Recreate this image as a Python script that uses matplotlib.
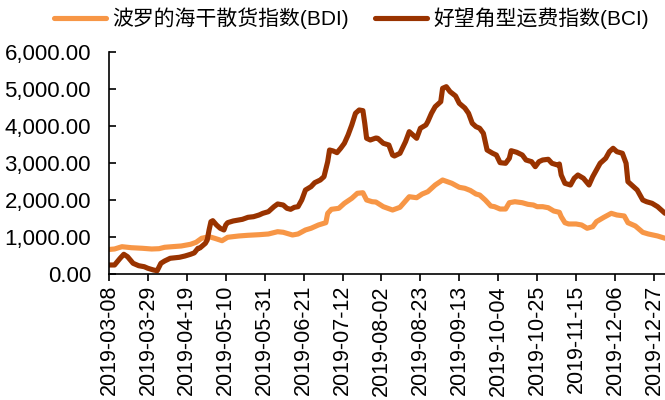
import matplotlib
matplotlib.use("Agg")
import matplotlib.pyplot as plt
import pandas as pd

start_date = "2019-03-08"

# Days since 2019-03-08
bdi_days = [0, 3, 7, 12, 18, 23, 27, 30, 34, 39,
            44, 47, 50, 54, 57, 61, 64, 70, 75, 81,
            86, 91, 94, 99, 102, 106, 109, 113, 117, 118,
            120, 124, 127, 131, 134, 137, 139, 142, 144, 148,
            153, 157, 162, 166, 169, 172, 176, 180, 185, 189,
            192, 195, 198, 200, 203, 206, 208, 211, 214, 216,
            219, 223, 226, 229, 231, 234, 237, 240, 243, 244,
            246, 248, 252, 255, 258, 261, 263, 267, 271, 274,
            278, 280, 284, 288, 291, 296, 300]
bdi_values = [662, 675, 737, 710, 694, 675, 683, 721, 737, 756,
              802, 856, 964, 1007, 964, 899, 991, 1026, 1045, 1061,
              1080, 1142, 1126, 1053, 1080, 1188, 1234, 1323, 1385, 1638,
              1746, 1773, 1908, 2043, 2178, 2194, 1997, 1951, 1943, 1817,
              1727, 1800, 2086, 2059, 2159, 2221, 2402, 2537, 2448, 2340,
              2313, 2254, 2159, 2132, 1997, 1835, 1817, 1754, 1754, 1924,
              1951, 1924, 1881, 1862, 1817, 1817, 1789, 1700, 1665, 1547,
              1385, 1350, 1350, 1323, 1234, 1277, 1412, 1530, 1638, 1593,
              1566, 1385, 1296, 1125, 1080, 1026, 964]

bci_days = [0, 3, 6, 8, 10, 13, 16, 19, 21, 24,
            26, 28, 30, 33, 36, 38, 41, 44, 46, 48,
            49, 52, 53, 54, 55, 56, 58, 60, 62, 63,
            64, 67, 70, 72, 75, 78, 81, 83, 86, 89,
            91, 94, 96, 98, 100, 102, 104, 106, 109, 111,
            114, 116, 118, 119, 121, 123, 125, 127, 129, 131,
            133, 135, 137, 138, 139, 141, 144, 145, 148, 151,
            153, 154, 157, 160, 162, 164, 166, 168, 171, 172,
            174, 176, 179, 180, 182, 184, 187, 189, 192, 194,
            196, 198, 200, 202, 204, 207, 209, 211, 214, 216,
            217, 220, 223, 225, 228, 230, 232, 234, 237, 239,
            242, 243, 244, 246, 249, 251, 253, 256, 259, 261,
            263, 265, 268, 270, 272, 274, 277, 279, 280, 282,
            285, 288, 290, 293, 296, 298, 300]
bci_values = [243, 243, 424, 532, 467, 289, 224, 197, 154, 108,
              89, 289, 351, 424, 440, 451, 486, 532, 570, 694,
              700, 829, 918, 1188, 1412, 1439, 1323, 1234, 1188, 1323,
              1385, 1431, 1458, 1476, 1530, 1547, 1593, 1638, 1682, 1817,
              1890, 1862, 1773, 1746, 1800, 1817, 1997, 2267, 2357, 2465,
              2537, 2627, 3032, 3347, 3320, 3275, 3393, 3528, 3752, 4022,
              4338, 4427, 4409, 4068, 3663, 3617, 3670, 3663, 3528, 3482,
              3212, 3185, 3258, 3572, 3841, 3752, 3663, 3933, 4022, 4111,
              4338, 4516, 4651, 5012, 5056, 4922, 4805, 4607, 4480, 4338,
              4068, 3977, 3933, 3797, 3347, 3258, 3212, 3005, 2988, 3123,
              3328, 3285, 3212, 3077, 3032, 2897, 3032, 3077, 3096, 2988,
              2942, 2969, 2672, 2448, 2402, 2583, 2672, 2583, 2402, 2627,
              2807, 2988, 3123, 3302, 3393, 3302, 3258, 2988, 2492, 2402,
              2267, 1997, 1952, 1908, 1817, 1727, 1638]

series_names = ["波罗的海干散货指数(BDI)", "好望角型运费指数(BCI)"]
tick_labels = ["2019-03-08", "2019-03-29", "2019-04-19", "2019-05-10", "2019-05-31",
               "2019-06-21", "2019-07-12", "2019-08-02", "2019-08-23", "2019-09-13",
               "2019-10-04", "2019-10-25", "2019-11-15", "2019-12-06", "2019-12-27"]
y_ticks = [0, 1000, 2000, 3000, 4000, 5000, 6000]

plt.rcParams['font.family'] = ['Liberation Sans', 'Noto Sans CJK SC', 'DejaVu Sans']

t0 = pd.Timestamp(start_date)
bdi_x = t0 + pd.to_timedelta(bdi_days, unit="D")
bci_x = t0 + pd.to_timedelta(bci_days, unit="D")

fig = plt.figure(figsize=(6.65, 4.0), dpi=100)
ax = fig.add_axes([109/665, 1 - 274/400, 1 - 109/665, (274 - 51.7)/400])

c_bdi = "#F79646"
c_bci = "#993300"
ax.plot(bdi_x, bdi_values, color=c_bdi, lw=3.7, solid_joinstyle="round",
        solid_capstyle="round", label=series_names[0])
ax.plot(bci_x, bci_values, color=c_bci, lw=3.7, solid_joinstyle="round",
        solid_capstyle="round", label=series_names[1])

ax.set_ylim(0, 6000)
ax.set_xlim(t0, t0 + pd.Timedelta(days=300))
ax.set_yticks(y_ticks)
ax.set_yticklabels([f"{v:,.2f}" for v in y_ticks])
xt = [pd.Timestamp(s) for s in tick_labels]
ax.set_xticks(xt)
ax.set_xticklabels(tick_labels, rotation=90)

for s in ["top", "right"]:
    ax.spines[s].set_visible(False)
for s in ["left", "bottom"]:
    ax.spines[s].set_color("black")
    ax.spines[s].set_linewidth(1.2)
ax.tick_params(axis="y", direction="in", length=5, width=1.2, labelsize=16, pad=13, colors="black")
ax.tick_params(axis="x", direction="out", length=5, width=1.2, labelsize=15.5, pad=3, colors="black")

leg = fig.legend(loc="center", bbox_to_anchor=(0.528, 0.955), ncol=2, frameon=False,
                 fontsize=15, handlelength=2.5, handletextpad=0.3, columnspacing=1.25,
                 borderaxespad=0)

fig.savefig("out.png", dpi=100)
